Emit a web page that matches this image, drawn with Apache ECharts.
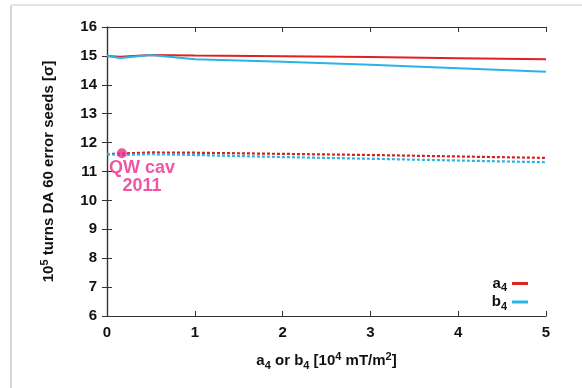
<!DOCTYPE html>
<html><head><meta charset="utf-8">
<script src="https://cdn.jsdelivr.net/npm/echarts@6/dist/echarts.min.js"></script>
<style>html,body{margin:0;padding:0;background:#fff}#c{width:582px;height:388px}</style>
</head><body><div id="c"></div>
<script>
var xs = [0, 0.15, 0.5, 1, 2, 3, 4, 5];
var a4Solid = [15.0, 14.97, 15.03, 15.01, 14.99, 14.96, 14.92, 14.88];
var b4Solid = [15.0, 14.93, 15.03, 14.88, 14.8, 14.69, 14.57, 14.45];
var a4Dotted = [11.6, 11.62, 11.66, 11.65, 11.61, 11.57, 11.52, 11.47];
var b4Dotted = [11.6, 11.57, 11.6, 11.57, 11.5, 11.44, 11.38, 11.32];
var qwPoint = [[0.17, 11.63]];
var xTicks = [0, 1, 2, 3, 4, 5];
var yTicks = [6, 7, 8, 9, 10, 11, 12, 13, 14, 15, 16];

function pairs(v){ return xs.map(function(x,i){return [x, v[i]];}); }
var RED = '#e0211f', BLUE = '#27b4ea', PINK = '#ec2a8e';
var FONT = 'Liberation Sans, Arial, sans-serif';
var rich = {
  b:{fontFamily:FONT,fontWeight:'bold',fontSize:15,color:'#111',lineHeight:20,verticalAlign:'middle'},
  sub:{fontFamily:FONT,fontWeight:'bold',fontSize:11,color:'#111',lineHeight:11,verticalAlign:'bottom'},
  sup:{fontFamily:FONT,fontWeight:'bold',fontSize:11,color:'#111',lineHeight:11,verticalAlign:'top'}
};
var axisLine = {lineStyle:{color:'#333',width:1.2}};
var chart = echarts.init(document.getElementById('c'));
chart.setOption({
  animation:false,
  backgroundColor:'#fff',
  grid:{left:107,right:36,top:27,bottom:72},
  xAxis:[{
    type:'value',min:0,max:5,interval:1,position:'bottom',
    axisLine:axisLine,axisTick:{inside:true,length:5,lineStyle:{color:'#333'}},
    splitLine:{show:false},
    axisLabel:{fontFamily:FONT,fontWeight:'bold',fontSize:15,color:'#111',margin:9},
    name:'{b|a}{sub|4}{b| or b}{sub|4}{b| [10}{sup|4}{b| mT/m}{sup|2}{b|]}',
    nameLocation:'middle',nameGap:35,nameTextStyle:{rich:rich}
  },{
    type:'value',min:0,max:5,interval:1,position:'top',
    axisLine:axisLine,axisTick:{inside:true,length:5,lineStyle:{color:'#333'}},
    axisLabel:{show:false},splitLine:{show:false}
  }],
  yAxis:[{
    type:'value',min:6,max:16,interval:1,position:'left',
    axisLine:{show:true,lineStyle:{color:'#333',width:1.2}},axisTick:{show:true,inside:true,length:5,lineStyle:{color:'#333'}},
    splitLine:{show:false},
    axisLabel:{fontFamily:FONT,fontWeight:'bold',fontSize:15,color:'#111',margin:10},
    name:'{b|10}{sup|5}{b| turns DA 60 error seeds [σ]}',
    nameLocation:'middle',nameGap:48,nameRotate:90,nameTextStyle:{rich:rich}
  },{
    type:'value',min:6,max:16,interval:1,position:'right',
    axisLine:{show:true,lineStyle:{color:'#333',width:1.2}},axisTick:{show:true,inside:true,length:5,lineStyle:{color:'#333'}},
    axisLabel:{show:false},splitLine:{show:false}
  }],
  legend:{
    orient:'vertical',right:54,bottom:76,align:'right',itemGap:1,padding:0,
    itemWidth:16,itemHeight:3,
    data:[{name:'a4',icon:'rect'},{name:'b4',icon:'rect'}],
    formatter:function(n){return '{b|'+n.charAt(0)+'}{sub|'+n.charAt(1)+'}';},
    textStyle:{rich:rich}
  },
  series:[
    {name:'a4',type:'line',data:pairs(a4Solid),showSymbol:false,color:RED,lineStyle:{color:RED,width:2}},
    {name:'b4',type:'line',data:pairs(b4Solid),showSymbol:false,color:BLUE,lineStyle:{color:BLUE,width:2}},
    {name:'a4 dotted',type:'line',data:pairs(a4Dotted),showSymbol:false,lineStyle:{color:'#d3201f',width:2.2,type:[3,2]}},
    {name:'b4 dotted',type:'line',data:pairs(b4Dotted),showSymbol:false,lineStyle:{color:BLUE,width:2.2,type:[3,2]}},
    {name:'QW cav',type:'scatter',data:qwPoint,symbolSize:10,itemStyle:{color:PINK},z:5,
     label:{show:true,position:'bottom',distance:1,offset:[20,0],formatter:'QW cav\n2011',align:'center',
       fontFamily:FONT,fontWeight:'bold',fontSize:18,lineHeight:18,color:PINK}}
  ],
  graphic:[
    {type:'line',shape:{x1:11,y1:5,x2:11,y2:388},style:{stroke:'#d8d8d8',lineWidth:2}},
    {type:'line',shape:{x1:11,y1:5,x2:582,y2:5},style:{stroke:'#e4e4e4',lineWidth:2}}
  ]
});
</script></body></html>
